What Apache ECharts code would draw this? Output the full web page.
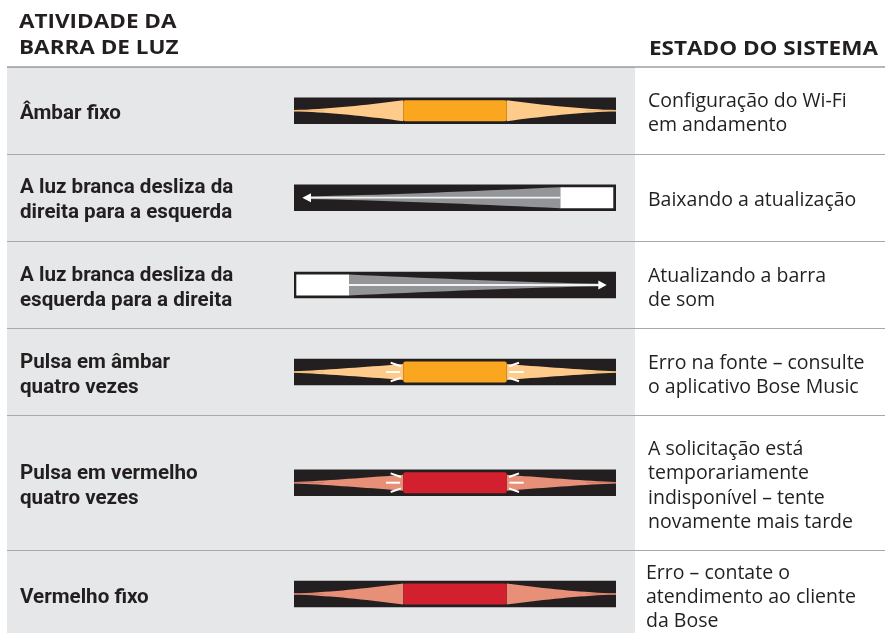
<!DOCTYPE html>
<html><head><meta charset="utf-8">
<style>html,body{margin:0;padding:0;background:#fff}#c{width:885px;height:633px}</style>
<script src="https://cdn.jsdelivr.net/npm/echarts@6/dist/echarts.min.js"></script>
</head><body><div id="c"></div>
<script>
var headerLeft = 'ATIVIDADE DA\nBARRA DE LUZ';
var headerRight = 'ESTADO DO SISTEMA';
var activities = ['Âmbar fixo','A luz branca desliza da\ndireita para a esquerda','A luz branca desliza da\nesquerda para a direita','Pulsa em âmbar\nquatro vezes','Pulsa em vermelho\nquatro vezes','Vermelho fixo'];
var states = ['Configuração do Wi-Fi\nem andamento','Baixando a atualização','Atualizando a barra\nde som','Erro na fonte – consulte\no aplicativo Bose Music','A solicitação está\ntemporariamente\nindisponível – tente\nnovamente mais tarde','Erro – contate o\natendimento ao cliente\nda Bose'];
var patterns = ['solid','slideLeft','slideRight','pulse','pulse','solid'];
var tones = ['amber','white','white','amber','red','red'];

var L = {
  W:885,H:633,panelL:7,panelR:635,headY:67,
  seps:[154.5,241.5,328.5,415.5,550.5],
  barL:294,barR:616,barH:26.6,
  barY:[110.7,197.7,285,372,482.7,594],
  leftY:[113.5,200.5,288.5,375.5,486.5,597.5],
  rightY:[113.5,200,288.5,375.5,486,597.5],
  rightX:[648,648,648,648,648,646],
  lightL:403.3,lightR:506.7,lightH:21
};
var C = {amber:'#FAA61E',red:'#D2202E',glow:{amber:'#FFCB8A',red:'#E88F78'},edge:{amber:'#E8B06A',red:'#C8705F'},
  panel:'#E6E7E8',ink:'#231F20',sep:'#A7A9AC',head:'#6D6E71',gray:'#939598'};

var chart = echarts.init(document.getElementById('c'),null,{renderer:'canvas'});
function render(params,api){
  var i=api.value(0), pat=patterns[i], tone=tones[i], cy=L.barY[i];
  function P(x,y){return api.coord([x,y]);}
  function rect(x0,y0,x1,y1,fill,r){var a=P(x0,y0),b=P(x1,y1);return {type:'rect',shape:{x:a[0],y:a[1],width:b[0]-a[0],height:b[1]-a[1],r:r||0},style:{fill:fill}};}
  function line(x0,y0,x1,y1,st,w){var a=P(x0,y0),b=P(x1,y1);return {type:'line',shape:{x1:a[0],y1:a[1],x2:b[0],y2:b[1]},style:{stroke:st,lineWidth:w}};}
  function poly(pts,fill){return {type:'polygon',shape:{points:pts.map(function(p){return P(p[0],p[1]);})},style:{fill:fill}};}
  function text(x,y,t,font,color,sx){var a=P(x,y);return {type:'text',x:a[0],y:a[1],scaleX:sx||1,style:{text:t,font:font,fill:color,lineHeight:24.4,verticalAlign:'middle',align:'left'}};}
  function wedge(xFar,xNear,h0,h1,pow,fill){
    var n=18,top=[],bot=[],k,u;
    for(k=0;k<=n;k++){u=k/n;top.push([xFar+(xNear-xFar)*u,cy-h0-(h1-h0)*Math.pow(u,pow)]);}
    for(k=n;k>=0;k--){u=k/n;bot.push([xFar+(xNear-xFar)*u,cy+h0+(h1-h0)*Math.pow(u,pow)]);}
    return poly(top.concat(bot),fill);
  }
  var ch=[];
  ch.push(text(20,L.leftY[i],activities[i],'700 20px Roboto',C.ink,1.03));
  ch.push(text(L.rightX[i],L.rightY[i],states[i],'400 19.5px "Open Sans"',C.ink));
  ch.push(rect(L.barL,cy-L.barH/2,L.barR,cy+L.barH/2,C.ink));
  if(pat==='solid'||pat==='pulse'){
    var hw=(pat==='solid')?10.5:8, pow=(pat==='solid')?1.5:1.2, g=C.glow[tone];
    ch.push(wedge(L.barL,L.lightL,0.7,hw,pow,g));
    ch.push(wedge(L.barR,L.lightR,0.7,hw,pow,g));
    ch.push(rect(L.barL,cy-0.4,L.barL+30,cy+0.4,C.edge[tone]));
    ch.push(rect(L.barR-30,cy-0.4,L.barR,cy+0.4,C.edge[tone]));
    ch.push(rect(L.lightL,cy-L.lightH/2,L.lightR,cy+L.lightH/2,C[tone],2));
    if(pat==='pulse'){
      ch.push(line(386,cy,400,cy,'#fff',2));
      ch.push(line(390.7,cy-9.3,401,cy-5.7,'#fff',2));
      ch.push(line(390.7,cy+9.3,401,cy+5.7,'#fff',2));
      ch.push(line(509.3,cy,523.7,cy,'#fff',2));
      ch.push(line(509,cy-5.7,519,cy-9.3,'#fff',2));
      ch.push(line(509,cy+5.7,519,cy+9.3,'#fff',2));
    }
  } else {
    var left=pat==='slideLeft';
    var rx0=left?560.3:296.3, rx1=left?613.3:349;
    var edge=left?rx0:rx1, far=left?306:602;
    ch.push(wedge(far,edge,1.3,10.5,1.3,C.gray));
    ch.push(line(edge,cy,left?309:600,cy,'#F1F2F2',1.8));
    ch.push(poly(left?[[302.3,cy],[311,cy-4.5],[311,cy+4.5]]:[[606.7,cy],[598.3,cy-4.5],[598.3,cy+4.5]],'#fff'));
    ch.push(rect(rx0,cy-10.5,rx1,cy+10.5,'#fff'));
  }
  return {type:'group',children:ch};
}
function renderFrame(params,api){
  function P(x,y){return api.coord([x,y]);}
  var ch=[];
  var a=P(L.panelL,L.headY),b=P(L.panelR,L.H);
  ch.push({type:'rect',shape:{x:a[0],y:a[1],width:b[0]-a[0],height:b[1]-a[1]},style:{fill:C.panel}});
  L.seps.forEach(function(y){var p=P(L.panelL,y),q=P(L.W,y);ch.push({type:'line',shape:{x1:p[0],y1:p[1],x2:q[0],y2:q[1]},style:{stroke:C.sep,lineWidth:1}});});
  var h0=P(L.panelL,L.headY),h1=P(L.W,L.headY);
  ch.push({type:'line',shape:{x1:h0[0],y1:h0[1],x2:h1[0],y2:h1[1]},style:{stroke:C.head,lineWidth:1.2}});
  var t1=P(19,35),t2=P(649,49);
  ch.push({type:'text',x:t1[0],y:t1[1],scaleX:1.16,style:{text:headerLeft,font:'700 19.4px "Open Sans"',fill:C.ink,lineHeight:26,verticalAlign:'middle'}});
  ch.push({type:'text',x:t2[0],y:t2[1],scaleX:1.16,style:{text:headerRight,font:'700 19.4px "Open Sans"',fill:C.ink,verticalAlign:'middle'}});
  return {type:'group',children:ch};
}
chart.setOption({
  animation:false,
  grid:{left:0,right:0,top:0,bottom:0},
  xAxis:{type:'value',min:0,max:L.W,show:false},
  yAxis:{type:'value',min:0,max:L.H,inverse:true,show:false},
  series:[
    {type:'custom',coordinateSystem:'cartesian2d',renderItem:renderFrame,data:[[0]],silent:true,z:1},
    {type:'custom',coordinateSystem:'cartesian2d',renderItem:render,data:activities.map(function(_,i){return [i];}),silent:true,z:2,clip:false,encode:{x:-1,y:-1}}
  ]
});
</script></body></html>
